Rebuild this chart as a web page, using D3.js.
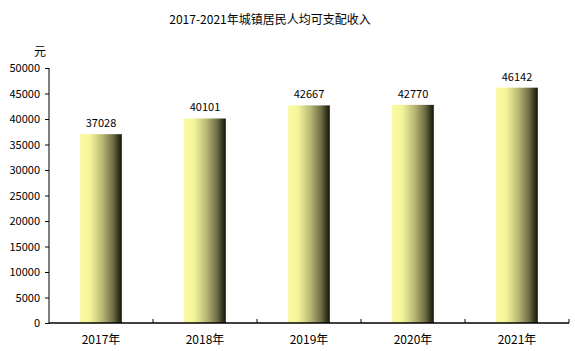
<!DOCTYPE html>
<html>
<head>
<meta charset="utf-8">
<style>
  body { margin: 0; background: #fff; }
  svg text { font-family: "Noto Sans CJK SC", "DejaVu Sans", sans-serif; }
</style>
</head>
<body>
<div id="chart"></div>
<script src="https://d3js.org/d3.v7.min.js"></script>
<script>
// data
var years = ["2017年", "2018年", "2019年", "2020年", "2021年"];
var income = [37028, 40101, 42667, 42770, 46142];
var yTicks = [0, 5000, 10000, 15000, 20000, 25000, 30000, 35000, 40000, 45000, 50000];

var W = 575, H = 351;
var margin = {top: 68, right: 6, bottom: 28, left: 49};
var width = W - margin.left - margin.right;
var height = H - margin.top - margin.bottom;

var svg = d3.select("#chart").append("svg")
    .attr("width", W)
    .attr("height", H);

// bar gradient, light yellow to near black
var grad = svg.append("defs").append("linearGradient")
    .attr("id", "barGrad")
    .attr("x1", "0%").attr("x2", "100%").attr("y1", "0%").attr("y2", "0%");
[["0%", "#fbfb9d"], ["25%", "#f3f39a"], ["55%", "#b4b473"], ["80%", "#6a6a44"], ["100%", "#141408"]]
  .forEach(function(s) {
    grad.append("stop").attr("offset", s[0]).attr("stop-color", s[1]);
  });

var g = svg.append("g").attr("transform", "translate(" + margin.left + "," + margin.top + ")");

var x = d3.scaleBand().domain(years).range([0, width]).paddingInner(0.6).paddingOuter(0.3);
var y = d3.scaleLinear().domain([0, 50000]).range([height, 0]);

// title
svg.append("text")
    .attr("x", 270)
    .attr("y", 24)
    .attr("text-anchor", "middle")
    .style("font-size", "12px")
    .text("2017-2021年城镇居民人均可支配收入");

// unit
svg.append("text")
    .attr("x", 40)
    .attr("y", 56)
    .attr("text-anchor", "middle")
    .style("font-size", "12px")
    .text("元");

// bars
g.selectAll("rect.bar")
    .data(income)
  .enter().append("rect")
    .attr("class", "bar")
    .attr("x", function(d, i) { return x(years[i]); })
    .attr("y", function(d) { return y(d); })
    .attr("width", x.bandwidth())
    .attr("height", function(d) { return height - y(d); })
    .attr("fill", "url(#barGrad)");

// value labels
g.selectAll("text.val")
    .data(income)
  .enter().append("text")
    .attr("class", "val")
    .attr("x", function(d, i) { return x(years[i]) + x.bandwidth() / 2; })
    .attr("y", function(d) { return y(d) - 7; })
    .attr("text-anchor", "middle")
    .style("font-size", "11px")
    .text(function(d) { return d; });

// y axis
var yAxis = g.append("g")
    .call(d3.axisLeft(y).tickValues(yTicks).tickSize(4).tickPadding(5).tickFormat(d3.format("d")));
yAxis.select(".domain").attr("stroke", "#000").attr("d", "M0,0V" + height);
yAxis.selectAll("text").style("font-size", "11px").attr("fill", "#000");

// x axis, ticks between categories pointing up
var step = x.step();
var xa = g.append("g").attr("transform", "translate(0," + height + ")");
xa.append("line")
    .attr("x1", 0).attr("x2", width)
    .attr("stroke", "#000").attr("stroke-width", 1.5);
xa.selectAll("line.tk")
    .data(d3.range(1, years.length + 1))
  .enter().append("line")
    .attr("class", "tk")
    .attr("x1", function(i) { return i * width / years.length; })
    .attr("x2", function(i) { return i * width / years.length; })
    .attr("y1", 0).attr("y2", -4)
    .attr("stroke", "#000");
xa.selectAll("text")
    .data(years)
  .enter().append("text")
    .attr("x", function(d) { return x(d) + x.bandwidth() / 2; })
    .attr("y", 21)
    .attr("text-anchor", "middle")
    .style("font-size", "12px")
    .text(function(d) { return d; });
</script>
</body>
</html>
